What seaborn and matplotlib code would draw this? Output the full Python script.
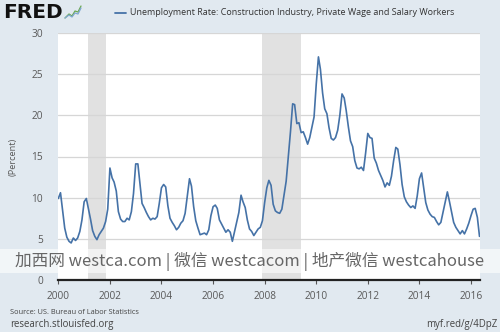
import numpy as np
import pandas as pd
import matplotlib
matplotlib.use("Agg")
import matplotlib.pyplot as plt
import matplotlib.dates as mdates
from matplotlib.lines import Line2D
from matplotlib.patches import Rectangle
import seaborn as sns

# ---- data (monthly, NSA), Jan 2000 - May 2016 ----
rate_2000 = [9.9, 10.6, 8.5, 6.3, 5.2, 4.7, 4.5, 5.1, 4.8, 5.1, 5.9, 7.3]
rate_2001 = [9.5, 9.9, 8.7, 7.4, 6.0, 5.3, 4.9, 5.5, 5.9, 6.3, 7.1, 8.6]
rate_2002 = [13.6, 12.4, 11.9, 10.8, 8.3, 7.4, 7.1, 7.1, 7.5, 7.3, 8.3, 10.5]
rate_2003 = [14.1, 14.1, 11.8, 9.3, 8.8, 8.2, 7.7, 7.3, 7.5, 7.4, 7.7, 9.3]
rate_2004 = [11.2, 11.6, 11.3, 9.0, 7.5, 7.0, 6.6, 6.1, 6.4, 6.9, 7.2, 8.1]
rate_2005 = [10.2, 12.3, 11.4, 8.9, 7.2, 6.3, 5.5, 5.6, 5.7, 5.5, 6.1, 7.8]
rate_2006 = [8.9, 9.1, 8.7, 7.3, 6.8, 6.3, 5.8, 6.1, 5.8, 4.7, 5.9, 7.0]
rate_2007 = [8.2, 10.3, 9.5, 8.8, 7.3, 6.2, 5.9, 5.4, 5.8, 6.2, 6.4, 7.2]
rate_2008 = [9.4, 11.2, 12.1, 11.5, 9.2, 8.4, 8.2, 8.1, 8.6, 10.3, 12.0, 15.0]
rate_2009 = [18.0, 21.4, 21.3, 19.0, 19.1, 17.9, 18.0, 17.3, 16.5, 17.3, 18.6, 19.8]
rate_2010 = [23.8, 27.1, 25.6, 22.7, 20.8, 20.2, 18.5, 17.2, 17.0, 17.3, 18.2, 20.0]
rate_2011 = [22.6, 22.1, 20.6, 18.6, 16.9, 16.2, 14.5, 13.6, 13.5, 13.7, 13.3, 15.4]
rate_2012 = [17.8, 17.3, 17.2, 14.8, 14.2, 13.3, 12.7, 12.1, 11.3, 11.8, 11.5, 12.6]
rate_2013 = [14.5, 16.1, 15.9, 14.0, 11.6, 10.1, 9.5, 9.1, 8.8, 9.0, 8.7, 10.2]
rate_2014 = [12.3, 13.0, 11.3, 9.4, 8.5, 8.0, 7.7, 7.6, 7.1, 6.7, 7.0, 8.2]
rate_2015 = [9.5, 10.7, 9.6, 8.3, 7.0, 6.4, 6.0, 5.6, 6.0, 5.6, 6.2, 6.9]
rate_2016 = [7.8, 8.6, 8.7, 7.6, 5.3]

recession_starts = ["2001-03-01", "2007-12-01"]
recession_ends = ["2001-11-01", "2009-06-01"]

y_ticks = [0, 5, 10, 15, 20, 25, 30]
series_label = "Unemployment Rate: Construction Industry, Private Wage and Salary Workers"

values = (rate_2000 + rate_2001 + rate_2002 + rate_2003 + rate_2004 + rate_2005 +
          rate_2006 + rate_2007 + rate_2008 + rate_2009 + rate_2010 + rate_2011 +
          rate_2012 + rate_2013 + rate_2014 + rate_2015 + rate_2016)
dates = pd.date_range("2000-01-01", periods=len(values), freq="MS")
df = pd.DataFrame({"date": dates, "rate": values})

# ---- styling ----
sns.set_theme(style="white")
plt.rcParams["font.family"] = ["Open Sans", "DejaVu Sans"]

BG = "#e1e9f0"
LINE = "#4572a7"
TXT = "#595959"

fig = plt.figure(figsize=(5.0, 3.32), dpi=100, facecolor=BG)
ax = fig.add_axes([58.3 / 500, 52 / 332, (479.5 - 58.3) / 500, 247 / 332])
ax.set_facecolor("white")

for s, e in zip(recession_starts, recession_ends):
    ax.axvspan(pd.Timestamp(s), pd.Timestamp(e), color="#e1e1e1", lw=0, zorder=0)

for t in y_ticks[1:]:
    ax.axhline(t, color="#d6d6d6", lw=0.9, zorder=1)

sns.lineplot(data=df, x="date", y="rate", ax=ax, color=LINE, lw=1.2, zorder=3)

ax.set_xlim(dates[0], dates[-1])
ax.set_ylim(0, 30)
ax.set_yticks(y_ticks)
ax.set_yticklabels([str(t) for t in y_ticks])
ax.xaxis.set_major_locator(mdates.YearLocator(2))
ax.xaxis.set_major_formatter(mdates.DateFormatter("%Y"))

for side in ["top", "right", "left"]:
    ax.spines[side].set_visible(False)
ax.spines["bottom"].set_color("#222222")
ax.spines["bottom"].set_linewidth(1.6)
ax.spines["bottom"].set_zorder(4)

ax.tick_params(axis="x", length=3, width=0.8, color="#555555", pad=5,
               labelsize=7.3, labelcolor=TXT, bottom=True)
ax.tick_params(axis="y", length=0, pad=11, labelsize=7.3, labelcolor=TXT)
ax.set_xlabel("")
ax.set_ylabel("(Percent)", fontsize=6.6, color=TXT)
ax.yaxis.set_label_coords(-0.097, 0.5)

# ---- header ----
fig.text(3 / 500, 1 - 12 / 332, "FRED", fontsize=14.5, fontweight="heavy",
         family="DejaVu Sans", color="#111111", va="center", ha="left")
# small logo chart icon
ix = np.array([65, 69, 72, 75, 78, 81]) / 500
iy1 = 1 - np.array([18, 14, 16, 11, 12, 6]) / 332
iy2 = 1 - np.array([18, 15, 17, 13, 14, 8]) / 332
fig.add_artist(Line2D(ix, iy1, color="#6aa84f", lw=0.9, transform=fig.transFigure))
fig.add_artist(Line2D(ix, iy2, color="#7fa7d0", lw=0.9, transform=fig.transFigure))

fig.add_artist(Line2D([115 / 500, 126 / 500], [1 - 12.5 / 332, 1 - 12.5 / 332],
                      color=LINE, lw=1.3, transform=fig.transFigure))
fig.text(130 / 500, 1 - 12.5 / 332, series_label, fontsize=6.5, color="#333333",
         va="center", ha="left")

# ---- footer ----
fig.text(10 / 500, 1 - 312 / 332, "Source: US. Bureau of Labor Statistics",
         fontsize=5.3, color="#444444", va="center", ha="left")
fig.text(10 / 500, 1 - 325 / 332, "research.stlouisfed.org",
         fontsize=6.9, color="#444444", va="center", ha="left")
fig.text(497 / 500, 1 - 325 / 332, "myf.red/g/4DpZ",
         fontsize=6.9, color="#444444", va="center", ha="right")

# ---- watermark band ----
fig.add_artist(Rectangle((0, 1 - 273 / 332), 1, 24 / 332, transform=fig.transFigure,
                         facecolor="white", alpha=0.6, lw=0, zorder=5))
fig.text(0.5, 1 - 261 / 332, "加西网 westca.com | 微信 westcacom | 地产微信 westcahouse",
         fontsize=12, color="#666666", va="center", ha="center",
         family=["Noto Sans CJK SC", "DejaVu Sans"], zorder=6)

fig.savefig("out.png", dpi=100, facecolor=BG)
